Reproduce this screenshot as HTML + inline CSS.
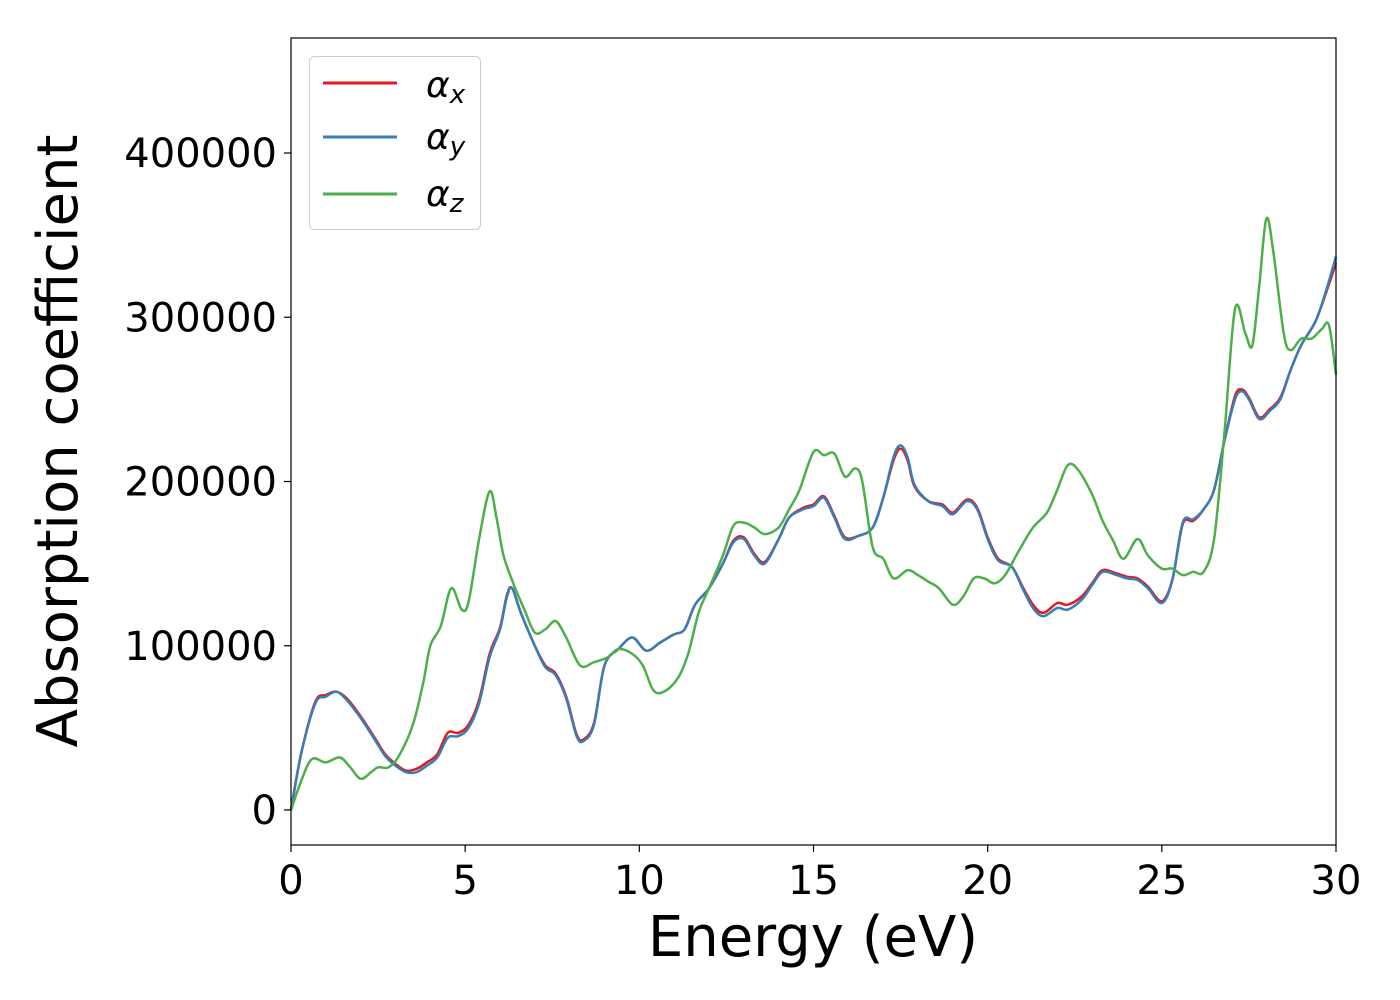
<!DOCTYPE html>
<html><head><meta charset="utf-8"><style>
html,body{margin:0;padding:0;background:#fff;}
svg{display:block;font-family:"DejaVu Sans","Liberation Sans",sans-serif;}
</style></head><body>
<svg id="chart" width="1400" height="1000" viewBox="0 0 1400 1000">
<rect x="0" y="0" width="1400" height="1000" fill="#fff"/>
<g id="series"></g>
<rect x="291" y="38" width="1045" height="807" fill="none" stroke="#000" stroke-width="1.2"/>
<g id="axes"></g>
<text x="813" y="956" font-size="56" text-anchor="middle">Energy (eV)</text>
<text transform="translate(77,441) rotate(-90)" font-size="56" text-anchor="middle">Absorption coefficient</text>
<g>
<rect x="309.5" y="56.5" width="171" height="173" rx="5" fill="#fff" fill-opacity="0.8" stroke="#ccc" stroke-width="1"/>
<line x1="323" y1="83" x2="397" y2="83" stroke="#e41a1c" stroke-width="3"/>
<text x="426" y="97" font-size="36" font-style="italic">α<tspan font-size="26" dy="6">x</tspan></text>
<line x1="323" y1="137" x2="397" y2="137" stroke="#377eb8" stroke-width="3"/>
<text x="426" y="149" font-size="36" font-style="italic">α<tspan font-size="26" dy="6">y</tspan></text>
<line x1="323" y1="194" x2="397" y2="194" stroke="#4daf4a" stroke-width="3"/>
<text x="426" y="206" font-size="36" font-style="italic">α<tspan font-size="26" dy="6">z</tspan></text>
</g>
</svg>
<script>
const xTicks=[0,5,10,15,20,25,30];
const yTicks=[0,100000,200000,300000,400000];
const yTickLabels=["0","100000","200000","300000","400000"];
const gX=[0,0.3,0.6,1.0,1.4,1.7,2.0,2.3,2.5,2.8,3.1,3.5,3.8,4.0,4.3,4.6,4.9,5.1,5.4,5.7,5.9,6.1,6.4,6.7,7.0,7.3,7.6,7.9,8.3,8.7,9.1,9.4,9.8,10.1,10.4,10.7,11.1,11.4,11.7,12.0,12.4,12.7,13.0,13.3,13.6,14.0,14.3,14.6,15.0,15.3,15.6,15.9,16.2,16.4,16.7,17.0,17.3,17.7,18.0,18.3,18.6,19.0,19.3,19.6,19.9,20.2,20.5,20.9,21.3,21.7,22.0,22.3,22.6,23.0,23.3,23.6,23.9,24.3,24.6,25.0,25.3,25.6,25.9,26.2,26.5,26.8,27.1,27.4,27.6,27.8,28.0,28.2,28.5,28.7,29.0,29.3,29.6,29.8,30.0];
const gY=[0,18000,31000,29000,32000,26000,19000,23000,26000,26000,33000,52000,78000,100000,112000,135000,122000,127000,165000,194000,178000,155000,137000,122000,108000,110000,115000,105000,88000,90000,93000,98000,95000,88000,73000,72000,80000,95000,120000,135000,155000,173000,175000,172000,168000,172000,183000,195000,218000,216000,217000,203000,208000,200000,160000,153000,141000,146000,143000,139000,135000,125000,130000,141000,141000,138000,143000,158000,172000,181000,195000,210000,207000,192000,176000,164000,153000,165000,155000,147000,147000,143000,145000,145000,165000,230000,305000,290000,283000,320000,360000,340000,290000,280000,287000,287000,293000,295000,265000];
const bX=[0,0.3,0.7,1.0,1.3,1.6,2.0,2.4,2.7,3.0,3.3,3.6,3.9,4.2,4.5,4.8,5.1,5.4,5.7,6.0,6.2,6.35,6.6,7.0,7.3,7.6,7.9,8.2,8.4,8.7,9.0,9.4,9.8,10.2,10.6,11.0,11.3,11.6,12.0,12.4,12.7,13.0,13.3,13.6,14.0,14.3,14.7,15.0,15.3,15.6,15.9,16.3,16.7,17.0,17.3,17.5,17.7,17.9,18.3,18.7,19.0,19.4,19.7,20.0,20.3,20.7,21.0,21.3,21.6,22.0,22.3,22.7,23.0,23.3,23.7,24.0,24.3,24.6,25.0,25.3,25.6,25.9,26.2,26.5,26.8,27.1,27.3,27.5,27.8,28.1,28.4,28.7,29.0,29.4,29.7,30.0];
const bY=[0,35000,65000,69000,72000,67000,56000,43000,33000,27000,23000,23000,27000,32000,44000,45000,50000,65000,93000,110000,130000,135000,120000,100000,87000,82000,68000,45000,42000,52000,88000,98000,105000,97000,102000,107000,110000,125000,135000,150000,163000,165000,155000,150000,165000,178000,183000,185000,190000,178000,165000,167000,172000,190000,215000,222000,215000,198000,188000,185000,180000,188000,183000,165000,152000,148000,135000,123000,118000,123000,122000,128000,137000,145000,143000,141000,140000,135000,126000,140000,175000,177000,183000,195000,225000,250000,255000,250000,238000,243000,250000,268000,283000,297000,315000,337000];
const rY=[0,35000,66000,70000,72000,68000,57000,44000,34000,28000,24000,25000,29000,34000,47000,47000,52000,67000,95000,111000,131000,135000,120000,100000,88000,83000,69000,46000,43000,53000,88000,98000,105000,97000,102000,107000,110000,125000,135000,150000,164000,166000,156000,151000,165000,178000,184000,186000,191000,179000,166000,167000,172000,190000,213000,220000,213000,197000,188000,186000,181000,189000,184000,166000,153000,148000,136000,125000,120000,126000,125000,130000,138000,146000,144000,142000,141000,136000,127000,140000,174000,176000,183000,195000,225000,252000,256000,251000,239000,244000,251000,268000,283000,297000,314000,333000];

const X0=291,X1=1336,Y0=810,PXY=164.25/100000;
function sx(v){return X0+(v/30)*(X1-X0);}
function sy(v){return Y0-v*PXY;}
const NS="http://www.w3.org/2000/svg";
function pathFor(xs,ys){
  const p=xs.map((x,i)=>[sx(x),sy(ys[i])]);
  let d="M"+p[0][0].toFixed(1)+","+p[0][1].toFixed(1);
  for(let i=0;i<p.length-1;i++){
    const a=p[Math.max(0,i-1)],b=p[i],c=p[i+1],e=p[Math.min(p.length-1,i+2)];
    const c1=[b[0]+(c[0]-a[0])/6,b[1]+(c[1]-a[1])/6],c2=[c[0]-(e[0]-b[0])/6,c[1]-(e[1]-b[1])/6];
    d+="C"+c1[0].toFixed(1)+","+c1[1].toFixed(1)+" "+c2[0].toFixed(1)+","+c2[1].toFixed(1)+" "+c[0].toFixed(1)+","+c[1].toFixed(1);
  }
  return d;
}
const sg=document.getElementById("series");
[[bX,rY,"#e41a1c","line-alpha-x"],[bX,bY,"#377eb8","line-alpha-y"],[gX,gY,"#4daf4a","line-alpha-z"]].forEach(s=>{
  const el=document.createElementNS(NS,"path");
  el.setAttribute("d",pathFor(s[0],s[1]));
  el.setAttribute("fill","none");el.setAttribute("stroke",s[2]);el.setAttribute("stroke-width","2.5");
  
  
  sg.appendChild(el);
});
const ax=document.getElementById("axes");
xTicks.forEach(t=>{
  const l=document.createElementNS(NS,"line");
  l.setAttribute("x1",sx(t));l.setAttribute("x2",sx(t));l.setAttribute("y1",845);l.setAttribute("y2",852);l.setAttribute("stroke","#000");l.setAttribute("stroke-width","1.2");
  
  
  ax.appendChild(l);
  const tx=document.createElementNS(NS,"text");
  tx.setAttribute("x",sx(t));tx.setAttribute("y",894);tx.setAttribute("font-size","40");tx.setAttribute("text-anchor","middle");
  tx.textContent=String(t);
  
  
  ax.appendChild(tx);
});
yTicks.forEach((t,i)=>{
  const l=document.createElementNS(NS,"line");
  l.setAttribute("x1",284);l.setAttribute("x2",291);l.setAttribute("y1",sy(t));l.setAttribute("y2",sy(t));l.setAttribute("stroke","#000");l.setAttribute("stroke-width","1.2");
  
  
  ax.appendChild(l);
  const tx=document.createElementNS(NS,"text");
  tx.setAttribute("x",277);tx.setAttribute("y",sy(t)+14);tx.setAttribute("font-size","40");tx.setAttribute("text-anchor","end");
  tx.textContent=yTickLabels[i];
  
  
  ax.appendChild(tx);
});
</script>
</body></html>
